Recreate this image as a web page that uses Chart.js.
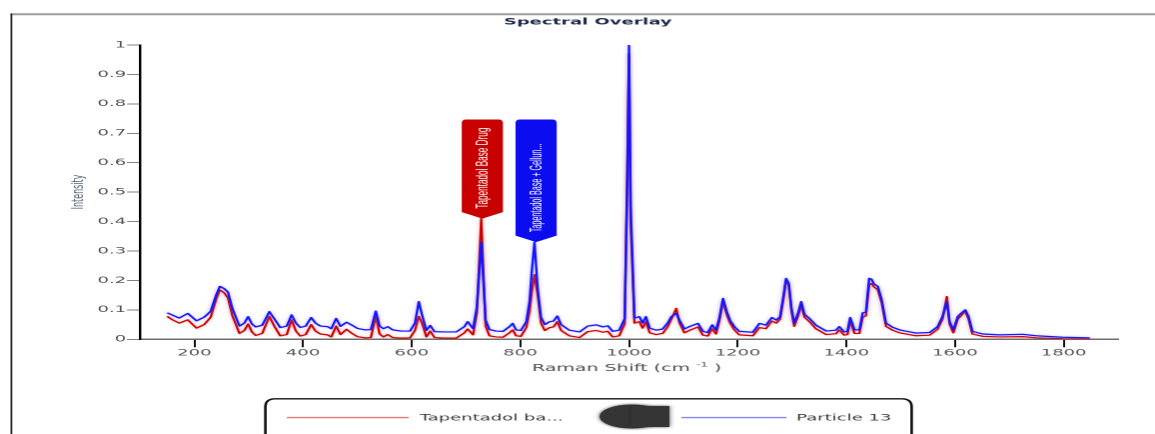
<!DOCTYPE html>
<html><head><meta charset="utf-8">
<script src="https://cdn.jsdelivr.net/npm/chart.js@4/dist/chart.umd.min.js"></script>
<style>
html,body{margin:0;padding:0;background:#fff;overflow:hidden;}
#c{display:block;}
</style></head><body>
<canvas id="c" width="578" height="434" style="width:1155px;height:434px"></canvas>
<script>
// ---- data ----
const ramanShift = [
 150,160,172,188,204,218,230,240,247,255,
 262,270,283,292,299,306,313,325,338,347,
 358,370,379,387,395,405,415,423,432,445,
 452,461,469,480,490,500,515,525,534,541,
 548,556,565,580,597,606,613,619,627,634,
 642,660,682,697,703,713,720,728,736,743,
 755,768,780,786,792,801,811,817,821,826,
 832,838,845,854,861,868,875,890,909,924,
 940,952,961,970,982,992,997,1000,1003,1010,
 1019,1025,1031,1038,1050,1062,1071,1078,1087,1093,
 1102,1111,1127,1136,1145,1153,1160,1166,1173,1180,
 1186,1194,1203,1228,1240,1252,1263,1271,1278,1284,
 1289,1294,1299,1304,1311,1317,1323,1332,1344,1363,
 1381,1387,1396,1402,1407,1415,1424,1430,1436,1442,
 1446,1451,1458,1465,1473,1485,1498,1528,1553,1568,
 1577,1585,1590,1597,1605,1611,1619,1625,1632,1651,
 1682,1725,1749,1798,1848
];
const particle13 = [
 .090,.082,.072,.088,.063,.075,.095,.150,.180,.172,
 .160,.105,.045,.055,.077,.052,.042,.048,.094,.070,
 .040,.045,.083,.055,.040,.045,.074,.055,.045,.043,
 .036,.071,.044,.058,.048,.037,.032,.033,.096,.045,
 .036,.043,.032,.028,.028,.055,.128,.083,.030,.047,
 .026,.025,.025,.043,.060,.036,.110,.330,.065,.033,
 .028,.027,.043,.054,.032,.030,.060,.130,.230,.330,
 .170,.075,.050,.060,.062,.079,.050,.031,.025,.045,
 .049,.042,.046,.027,.031,.070,.550,1.00,.450,.072,
 .077,.055,.077,.038,.031,.035,.055,.077,.088,.065,
 .035,.043,.054,.027,.023,.049,.031,.071,.139,.094,
 .065,.043,.027,.024,.054,.048,.074,.065,.077,.145,
 .207,.190,.105,.055,.088,.128,.085,.071,.048,.028,
 .031,.043,.025,.027,.074,.032,.032,.090,.092,.207,
 .205,.188,.180,.135,.055,.041,.032,.021,.023,.043,
 .077,.128,.060,.032,.077,.088,.100,.077,.027,.018,
 .015,.017,.012,.007,.005
];
const tapentadolBase = [
 .078,.066,.055,.066,.038,.050,.075,.135,.168,.158,
 .140,.080,.020,.030,.052,.025,.013,.020,.078,.045,
 .012,.016,.066,.028,.011,.016,.050,.028,.018,.015,
 .008,.045,.016,.034,.020,.009,.005,.006,.080,.018,
 .008,.016,.006,.004,.005,.030,.078,.055,.008,.028,
 .006,.004,.004,.022,.035,.015,.090,.410,.045,.012,
 .008,.007,.022,.032,.012,.010,.040,.095,.160,.220,
 .150,.055,.030,.040,.042,.060,.030,.012,.006,.026,
 .030,.024,.027,.008,.012,.052,.600,.970,.400,.055,
 .060,.038,.060,.022,.016,.020,.042,.068,.105,.055,
 .022,.030,.042,.014,.011,.036,.018,.060,.128,.084,
 .055,.032,.015,.012,.040,.036,.062,.055,.068,.135,
 .200,.183,.095,.044,.078,.115,.075,.060,.036,.016,
 .019,.032,.014,.016,.062,.020,.020,.075,.080,.185,
 .190,.178,.168,.125,.044,.031,.022,.012,.014,.034,
 .068,.145,.052,.022,.068,.080,.095,.068,.018,.010,
 .008,.009,.005,.002,.001
];
const xTickValues = [200,400,600,800,1000,1200,1400,1600,1800];
const yTickValues = [0,0.1,0.2,0.3,0.4,0.5,0.6,0.7,0.8,0.9,1];
const seriesLabels = ['Tapentadol ba...', 'Particle 13'];
const flagLabels = ['Tapentadol Base Drug', 'Tapentadol Base + Gellun...'];
const flagShifts = [730, 829];
const chartTitle = 'Spectral Overlay';
const xTitle = 'Raman Shift (cm';
const xTitleSup = '-1';
const xTitleEnd = ' )';
const yTitle = 'Intensity';

// ---- layout (logical canvas is 578 wide, shown stretched to 1155) ----
const S = 1155 / 578;
const AREA_L = 140 / S, AREA_R = 1118 / S, AREA_B = 339.3;
const seriesColors = ['#d00000', '#1414ff'];
const glowColors = ['rgba(235,110,110,0.5)', 'rgba(120,120,255,0.5)'];
const flagColors = ['#c80000', '#0c0cf0'];
const flagTextMax = [82, 88.5];

function rrect(ctx, x, y, w, h, rx, ry) {
  ctx.beginPath();
  ctx.moveTo(x + rx, y);
  ctx.lineTo(x + w - rx, y);
  ctx.quadraticCurveTo(x + w, y, x + w, y + ry);
  ctx.lineTo(x + w, y + h - ry);
  ctx.quadraticCurveTo(x + w, y + h, x + w - rx, y + h);
  ctx.lineTo(x + rx, y + h);
  ctx.quadraticCurveTo(x, y + h, x, y + h - ry);
  ctx.lineTo(x, y + ry);
  ctx.quadraticCurveTo(x, y, x + rx, y);
  ctx.closePath();
}

const framePlugin = {
  id: 'frame',
  beforeDraw(chart) {
    const ctx = chart.ctx;
    ctx.save();
    ctx.fillStyle = '#fff';
    ctx.fillRect(0, 0, chart.width, chart.height);
    ctx.strokeStyle = '#9c9c9c'; ctx.lineWidth = 2;
    ctx.beginPath(); ctx.moveTo(5.3, 14.3); ctx.lineTo(chart.width, 14.3); ctx.stroke();
    ctx.strokeStyle = '#262626'; ctx.lineWidth = 0.9;
    ctx.beginPath(); ctx.moveTo(5.7, 13.5); ctx.lineTo(5.7, chart.height); ctx.stroke();
    ctx.restore();
  }
};

const glowPlugin = {
  id: 'glow',
  beforeDatasetDraw(chart, args) {
    const ctx = chart.ctx;
    ctx.save();
    ctx.shadowColor = glowColors[args.index];
    ctx.shadowBlur = 4;
  },
  afterDatasetDraw(chart) { chart.ctx.restore(); }
};

const flagPlugin = {
  id: 'flags',
  afterDatasetsDraw(chart) {
    const ctx = chart.ctx, xs = chart.scales.x, ys = chart.scales.y;
    const series = [tapentadolBase, particle13];
    flagShifts.forEach((shift, k) => {
      let best = 0;
      ramanShift.forEach((x, i) => { if (Math.abs(x - shift) <= 6 && series[k][i] > best) best = series[k][i]; });
      const cx = xs.getPixelForValue(shift);
      const tipY = ys.getPixelForValue(best);
      const top = 119.5, vH = 6.5, hw = 10.3, rx = 2, ry = 4;
      const bodyBottom = tipY - vH;
      ctx.save();
      ctx.fillStyle = flagColors[k];
      ctx.beginPath();
      ctx.moveTo(cx - hw, top + ry);
      ctx.quadraticCurveTo(cx - hw, top, cx - hw + rx, top);
      ctx.lineTo(cx + hw - rx, top);
      ctx.quadraticCurveTo(cx + hw, top, cx + hw, top + ry);
      ctx.lineTo(cx + hw, bodyBottom);
      ctx.lineTo(cx, tipY);
      ctx.lineTo(cx - hw, bodyBottom);
      ctx.closePath();
      ctx.fill();
      ctx.translate(cx, bodyBottom - 3.5);
      ctx.rotate(-Math.PI / 2);
      ctx.fillStyle = '#ffffff';
      ctx.font = '8.2px "Liberation Sans", Arial, sans-serif';
      ctx.textAlign = 'left';
      ctx.textBaseline = 'middle';
      ctx.fillText(flagLabels[k], 0, 0.3, flagTextMax[k]);
      ctx.restore();
    });
  }
};

const textPlugin = {
  id: 'texts',
  afterDraw(chart) {
    const ctx = chart.ctx;
    ctx.save();
    // title
    ctx.fillStyle = '#1e2b4c';
    ctx.font = 'bold 9px "DejaVu Sans"';
    ctx.textAlign = 'center'; ctx.textBaseline = 'alphabetic';
    ctx.fillText(chartTitle, 294.2, 24.5);
    // x title
    ctx.fillStyle = '#4e4e4e';
    ctx.textAlign = 'left';
    ctx.font = '9.5px "DejaVu Sans"';
    let x = 266.2;
    ctx.fillText(xTitle, x, 371);
    x += ctx.measureText(xTitle + ' ').width;
    ctx.font = '6px "DejaVu Sans"';
    ctx.fillText(xTitleSup, x, 366.5);
    x += ctx.measureText(xTitleSup).width;
    ctx.font = '9.5px "DejaVu Sans"';
    ctx.fillText(xTitleEnd, x, 371);
    // y title
    ctx.save();
    ctx.translate(39.6, 192);
    ctx.rotate(-Math.PI / 2);
    ctx.fillStyle = '#5f6575';
    ctx.font = '8px "DejaVu Sans"';
    ctx.textAlign = 'center'; ctx.textBaseline = 'middle';
    ctx.fillText(yTitle, 0, 0);
    ctx.restore();
    // legend box
    ctx.strokeStyle = '#111'; ctx.lineWidth = 1.3;
    rrect(ctx, 132.8, 398.8, 323.4, 60, 5, 8);
    ctx.stroke();
    ctx.lineWidth = 1.4;
    ctx.strokeStyle = 'rgba(225,95,95,0.85)';
    ctx.beginPath(); ctx.moveTo(143.5, 417.6); ctx.lineTo(204.5, 417.6); ctx.stroke();
    ctx.strokeStyle = 'rgba(110,110,245,0.85)';
    ctx.beginPath(); ctx.moveTo(341, 417.6); ctx.lineTo(393.5, 417.6); ctx.stroke();
    ctx.fillStyle = '#3a3a3a';
    ctx.font = '9px "DejaVu Sans"';
    ctx.textAlign = 'left'; ctx.textBaseline = 'middle';
    ctx.fillText(seriesLabels[0], 210, 418);
    ctx.fillText(seriesLabels[1], 398.5, 418);
    // redaction blob
    ctx.save();
    ctx.fillStyle = '#353535';
    ctx.shadowColor = 'rgba(40,40,40,0.8)'; ctx.shadowBlur = 5;
    ctx.beginPath();
    ctx.ellipse(316, 416.5, 16, 12, 0, 0, Math.PI * 2);
    ctx.fill();
    ctx.fillRect(316, 406, 19, 21);
    ctx.restore();
    ctx.restore();
  }
};

new Chart(document.getElementById('c'), {
  type: 'line',
  data: {
    datasets: [
      { label: seriesLabels[0], data: ramanShift.map((x, i) => ({ x, y: tapentadolBase[i] })),
        borderColor: seriesColors[0], borderWidth: 1.2, order: 1 },
      { label: seriesLabels[1], data: ramanShift.map((x, i) => ({ x, y: particle13[i] })),
        borderColor: seriesColors[1], borderWidth: 1.2, order: 0 }
    ]
  },
  options: {
    responsive: false, animation: false, devicePixelRatio: 2, events: [],
    layout: { padding: { left: 0, right: 578 - AREA_R, top: 45, bottom: 434 - AREA_B - 20 } },
    elements: { point: { radius: 0, hoverRadius: 0 }, line: { tension: 0, borderJoinStyle: 'round', fill: false } },
    plugins: { legend: { display: false }, tooltip: { enabled: false }, title: { display: false } },
    scales: {
      x: {
        type: 'linear', min: 100, max: 1900,
        afterBuildTicks: s => { s.ticks = xTickValues.map(v => ({ value: v })); },
        afterFit: s => { s.height = 20; },
        grid: { drawOnChartArea: false, drawTicks: true, tickLength: 8, tickColor: '#111', tickWidth: 1 },
        border: { display: true, color: '#6e6e6e', width: 1.5 },
        ticks: { font: { family: 'DejaVu Sans', size: 9 }, color: '#555', padding: 0.5, maxRotation: 0, autoSkip: false,
                 callback: v => String(v) }
      },
      y: {
        type: 'linear', min: 0, max: 1,
        afterBuildTicks: s => { s.ticks = yTickValues.map(v => ({ value: v })); },
        afterFit: s => { s.width = AREA_L; },
        grid: { drawOnChartArea: false, drawTicks: true, tickLength: 6.5, tickColor: '#808080', tickWidth: 1 },
        border: { display: true, color: '#000', width: 1.2 },
        ticks: { font: { family: 'DejaVu Sans', size: 9 }, color: '#555', padding: 0.5, autoSkip: false,
                 callback: v => String(v) }
      }
    }
  },
  plugins: [framePlugin, glowPlugin, flagPlugin, textPlugin]
});
</script>
</body></html>
